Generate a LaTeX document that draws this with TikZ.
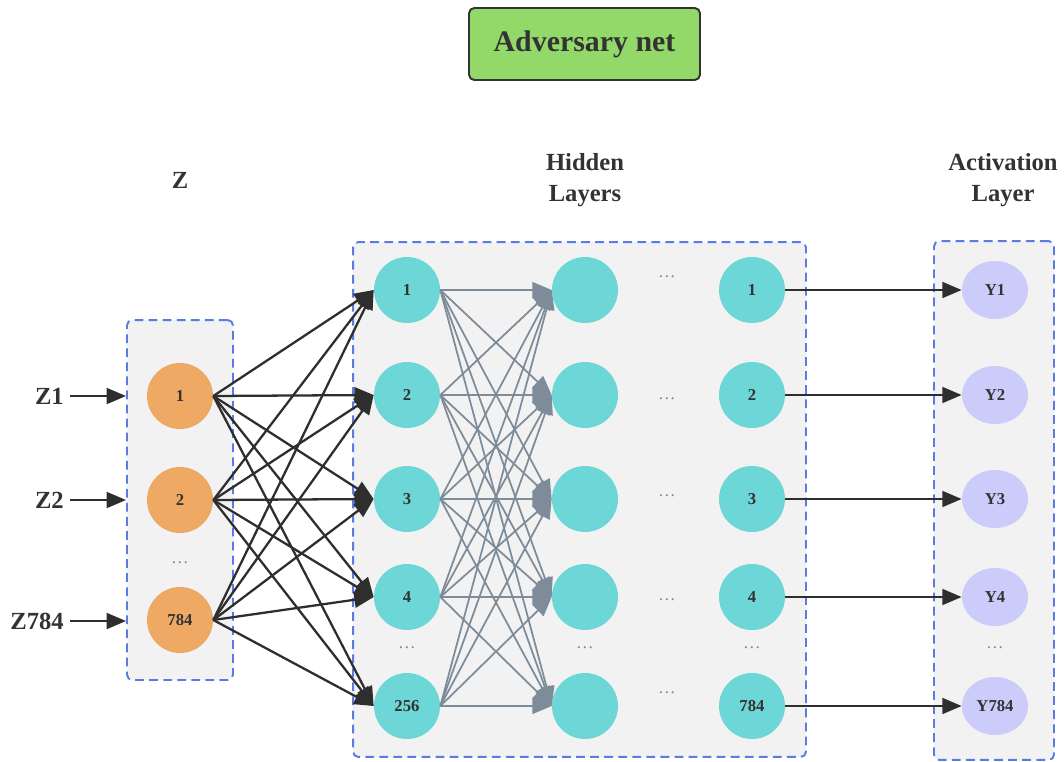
\documentclass[tikz,border=0pt]{standalone}
\usepackage{fontspec}
\setmainfont{Liberation Serif}
\usetikzlibrary{positioning,arrows.meta,shapes.geometric}
\definecolor{textgray}{HTML}{333333}
\definecolor{boxblue}{HTML}{5A7BE6}
\definecolor{boxgray}{HTML}{F2F2F2}
\definecolor{zorange}{HTML}{F0A965}
\definecolor{hteal}{HTML}{6DD6D6}
\definecolor{ylav}{HTML}{CCCCFA}
\definecolor{titlegreen}{HTML}{93D96A}
\definecolor{arrgray}{HTML}{7E8C9A}
\definecolor{arrblack}{HTML}{2E2E2E}
\definecolor{dotgray}{HTML}{888888}

\begin{document}
\begin{tikzpicture}[
  x=0.02cm,y=-0.02cm,
  text=textgray,
  layerbox/.style={draw=boxblue,line width=1.1pt,dash pattern=on 5pt off 3pt,fill=boxgray,rounded corners=3pt,inner sep=0pt},
  neuron/.style={circle,minimum size=1.32cm,inner sep=0pt,font=\bfseries\fontsize{9.5}{11}\selectfont},
  zneuron/.style={neuron,fill=zorange},
  hneuron/.style={neuron,fill=hteal},
  yneuron/.style={ellipse,fill=ylav,minimum width=1.32cm,minimum height=1.16cm,inner sep=0pt,font=\bfseries\fontsize{9.5}{11}\selectfont},
  heading/.style={align=center,font=\bfseries\fontsize{14}{18}\selectfont},
  sidelabel/.style={font=\bfseries\fontsize{14}{16}\selectfont},
  dotsep/.style={text=dotgray,font=\fontsize{10}{12}\selectfont,inner sep=1pt},
  blackarr/.style={-{Triangle[length=11pt,width=9pt]},line width=1.3pt,draw=arrblack},
  grayarr/.style={-{Triangle[length=11pt,width=9pt]},line width=1pt,draw=arrgray},
  ]

  \useasboundingbox (0,0) rectangle (1064,761);

  %title
  \node (title) [draw=textgray,line width=1.1pt,fill=titlegreen,rounded corners=3pt,minimum width=4.62cm,minimum height=1.44cm,font=\bfseries\fontsize{17}{20}\selectfont] at (584.5,44) {Adversary net};

  %headings
  \node (head_z) [heading] at (180,180) {Z};
  \node (head_h) [heading] at (585,180) {Hidden\\Layers};
  \node (head_a) [heading] at (1003,180) {Activation\\Layer};

  %layer boxes
  \node (zbox) [layerbox,minimum width=2.12cm,minimum height=7.2cm] at (180,500) {};
  \node (hbox) [layerbox,minimum width=9.06cm,minimum height=10.3cm] at (579.5,499.5) {};
  \node (abox) [layerbox,minimum width=2.4cm,minimum height=10.38cm] at (994,500.5) {};

  %input layer
  \foreach \y/\lab [count=\i] in {396/1,500/2,620/784}
   {
     \node (in_\i) [zneuron] at (180,\y) {\lab};
   }
  \foreach \y/\lab [count=\i] in {396/Z1,500/Z2,621/Z784}
   {
     \node (zl_\i) [sidelabel,anchor=east] at (70,\y) {\lab};
     \draw[blackarr] (zl_\i) -- (zbox.west |- zl_\i);
   }
  \node (in_dots) [dotsep] at (180,563) {\dots};

  %hidden and activation layers
  \foreach \y/\a/\b/\d [count=\i] in {290/1/1/277,395/2/2/399,499/3/3/496,597/4/4/600,706/256/784/693}
   {
     \node (hid_\i) [hneuron] at (407,\y) {\a};
     \node (mid_\i) [hneuron] at (585,\y) {};
     \node (last_\i) [hneuron] at (752,\y) {\b};
     \node (act_\i) [yneuron] at (995,\y) {Y\b};
     \node (gap_\i) [dotsep] at (667,\d) {\dots};
   }
  \foreach \x [count=\k] in {407,585,752,995}
   {
     \node (col_dots_\k) [dotsep] at (\x,648) {\dots};
   }

  %connections
  \foreach \i in {1,2,3}
   \foreach \j in {1,...,5}
    {
      \draw[blackarr] (in_\i.east) -- (hid_\j.west);
    }
  \foreach \i in {1,...,5}
   \foreach \j in {1,...,5}
    {
      \draw[grayarr] (hid_\i.east) -- (mid_\j.west);
    }
  \foreach \i in {1,...,5}
   {
     \draw[blackarr] (last_\i.east) -- (act_\i.west);
   }

\end{tikzpicture}
\end{document}
